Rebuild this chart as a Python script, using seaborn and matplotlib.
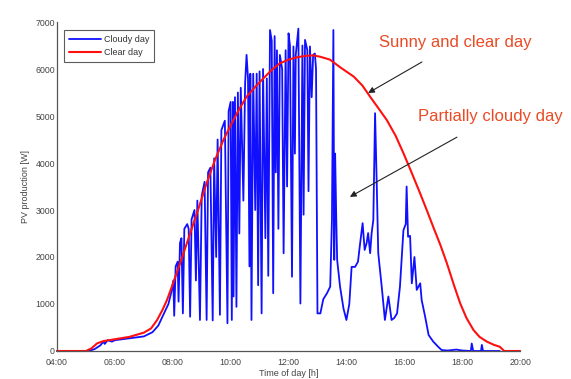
import numpy as np
import pandas as pd
import matplotlib
matplotlib.use("Agg")
import matplotlib.pyplot as plt
import seaborn as sns

# ---------------------------------------------------------------------
# Data (hours of day, power in W)
# ---------------------------------------------------------------------
clear_time = [4.0, 5.0, 5.2, 5.38, 5.6, 6.0, 6.5, 7.0, 7.25, 7.46, 7.65, 7.8, 8.0,
              8.3, 8.6, 8.9, 9.17, 9.45, 9.75, 10.0, 10.3, 10.55, 10.85, 11.13, 11.4,
              11.7, 12.0, 12.29, 12.6, 12.86, 13.1, 13.43, 13.8, 14.25, 14.55, 14.82,
              15.1, 15.4, 15.7, 15.97, 16.25, 16.55, 16.8, 17.0, 17.25, 17.47, 17.7,
              17.93, 18.15, 18.39, 18.6, 18.85, 19.1, 19.3, 19.45, 20.0]
clear_power = [0, 0, 60, 160, 210, 250, 300, 390, 480, 660, 880, 1085, 1420,
               1950, 2500, 3050, 3570, 4050, 4490, 4800, 5150, 5410, 5620, 5800, 5970,
               6120, 6200, 6250, 6280, 6290, 6260, 6200, 6030, 5840, 5650, 5410,
               5170, 4910, 4580, 4210, 3800, 3350, 2960, 2640, 2250, 1870, 1430,
               1015, 700, 447, 300, 200, 130, 90, 0, 0]

cloudy_time = [4.0, 5.1, 5.3, 5.5, 5.6, 5.65, 5.75, 5.9, 6.0, 6.5, 7.0, 7.3, 7.5,
               7.7, 7.85, 7.95, 8.02, 8.05, 8.1, 8.17, 8.2, 8.25, 8.3, 8.35, 8.4,
               8.5, 8.55, 8.6, 8.65, 8.75, 8.8, 8.85, 8.94, 9.0, 9.1, 9.17, 9.22, 9.3,
               9.38, 9.43, 9.5, 9.55, 9.63, 9.68, 9.8, 9.89, 9.93, 10.0, 10.04, 10.08,
               10.1, 10.15, 10.2, 10.25, 10.3, 10.35, 10.44, 10.5, 10.55, 10.6, 10.65,
               10.68, 10.72, 10.78, 10.85, 10.9, 10.95, 11.0, 11.07, 11.12, 11.2,
               11.25, 11.3, 11.36, 11.42, 11.47, 11.52, 11.56, 11.6, 11.65, 11.7,
               11.78, 11.83, 11.9, 11.95, 12.0, 12.05, 12.12, 12.17, 12.22, 12.25,
               12.34, 12.41, 12.48, 12.52, 12.57, 12.65, 12.69, 12.74, 12.8, 12.85,
               12.91, 12.95, 13.0, 13.1, 13.2, 13.33, 13.44, 13.5, 13.55, 13.58,
               13.61, 13.65, 13.68, 13.78, 13.9, 14.0, 14.1, 14.18, 14.3, 14.4,
               14.46, 14.56, 14.63, 14.7, 14.75, 14.82, 14.87, 14.93, 14.99, 15.05,
               15.1, 15.22, 15.33, 15.45, 15.56, 15.65, 15.75, 15.85, 15.97, 16.05,
               16.08, 16.13, 16.2, 16.26, 16.35, 16.43, 16.55, 16.6, 16.72, 16.84,
               17.0, 17.17, 17.29, 17.5, 17.8, 18.0, 18.3, 18.33, 18.38, 18.65,
               18.68, 18.72, 19.3]
cloudy_power = [0, 0, 40, 120, 200, 150, 230, 200, 230, 270, 310, 400, 540,
                800, 1000, 1250, 1500, 750, 1800, 1900, 1050, 2300, 2400, 800, 2600,
                2700, 2600, 730, 2800, 3000, 1500, 3200, 660, 3300, 3600, 660, 3800, 3900,
                650, 4100, 2000, 4500, 770, 4700, 4900, 590, 5100, 5300, 660, 5300,
                1160, 5400, 940, 5500, 2500, 5600, 3200, 5700, 6300, 5800, 1800,
                5900, 660, 5900, 3000, 5900, 1400, 5950, 800, 6000, 2400,
                5800, 1600, 6830, 6600, 1230, 6700, 3800, 6400, 2600, 6300,
                6000, 2080, 6400, 3500, 6760, 6500, 1580, 6480, 4200, 6300,
                6860, 1010, 6500, 2900, 6620, 6400, 3400, 6480, 5400, 6300,
                6330, 6000, 800, 800, 1100, 1230, 1370, 2790, 6830, 1940,
                4200, 2800, 1940, 1370, 900, 660, 1000, 1790, 1790, 1900,
                2220, 2720, 2150, 2300, 2510, 2080, 2500, 2790, 5060, 3500,
                2080, 1370, 660, 1160, 660, 700, 800, 1370, 2570, 2700,
                3500, 2430, 2450, 1440, 2000, 1300, 1440, 1085, 730, 340,
                200, 90, 20, 10, 30, 10, 0, 160, 0, 0,
                130, 0, 0]

hour_ticks = [4, 6, 8, 10, 12, 14, 16, 18, 20]
hour_labels = ["04:00", "06:00", "08:00", "10:00", "12:00", "14:00", "16:00", "18:00", "20:00"]
power_ticks = [0, 1000, 2000, 3000, 4000, 5000, 6000, 7000]

df_cloudy = pd.DataFrame({"hour": cloudy_time, "power": cloudy_power})
df_clear = pd.DataFrame({"hour": clear_time, "power": clear_power})

# ---------------------------------------------------------------------
# Style
# ---------------------------------------------------------------------
sns.set_theme(style="white")
plt.rcParams["font.family"] = ["Liberation Sans", "DejaVu Sans"]
plt.rcParams.update({
    "axes.edgecolor": "#555555",
    "axes.linewidth": 0.9,
    "xtick.color": "#555555",
    "ytick.color": "#555555",
    "xtick.direction": "in",
    "ytick.direction": "in",
})

fig = plt.figure(figsize=(5.71, 3.79), dpi=100)
ax = fig.add_axes([0.0998, 0.0739, 0.811, 0.868])

sns.lineplot(data=df_cloudy, x="hour", y="power", ax=ax, color="#1010ff",
             linewidth=1.3, estimator=None, sort=False, label="Cloudy day")
sns.lineplot(data=df_clear, x="hour", y="power", ax=ax, color="#ff1010",
             linewidth=1.5, estimator=None, sort=False, label="Clear day")
for ln in ax.lines:
    ln.set_clip_on(False)

ax.set_xlim(4, 20)
ax.set_ylim(0, 7000)
ax.set_xticks(hour_ticks)
ax.set_xticklabels(hour_labels)
ax.set_yticks(power_ticks)
ax.tick_params(axis="both", labelsize=6.3, length=3, width=0.7,
               labelcolor="#444444")
ax.tick_params(axis="x", pad=5)
ax.tick_params(axis="y", pad=1.5)
for s in ["top", "right"]:
    ax.spines[s].set_visible(False)

ax.set_xlabel("Time of day [h]", fontsize=6.5, color="#444444", labelpad=1.5)
ax.set_ylabel("PV production [W]", fontsize=6.5, color="#444444", labelpad=4)

leg = ax.legend(loc="upper left", bbox_to_anchor=(0.005, 0.99), fontsize=6.5,
                frameon=True, fancybox=False, handlelength=3.6, handletextpad=0.3,
                borderpad=0.55, labelspacing=0.5, edgecolor="#333333")
leg.get_frame().set_linewidth(0.8)
for t in leg.get_texts():
    t.set_color("#333333")

# Annotations
text_color = "#e94b25"
arrow = dict(arrowstyle="-|>", color="#222222", lw=0.8, mutation_scale=9,
             shrinkA=0, shrinkB=0)
ax.annotate("", xy=(14.75, 5490), xytext=(16.61, 6150), arrowprops=arrow)
ax.text(17.77, 6570, "Sunny and clear day", fontsize=12, color=text_color,
        ha="center", va="center")
ax.annotate("", xy=(14.12, 3280), xytext=(17.82, 4550), arrowprops=arrow)
ax.text(18.96, 4980, "Partially cloudy day", fontsize=12, color=text_color,
        ha="center", va="center", clip_on=False)

fig.savefig("out.png", dpi=100)
plt.close(fig)
